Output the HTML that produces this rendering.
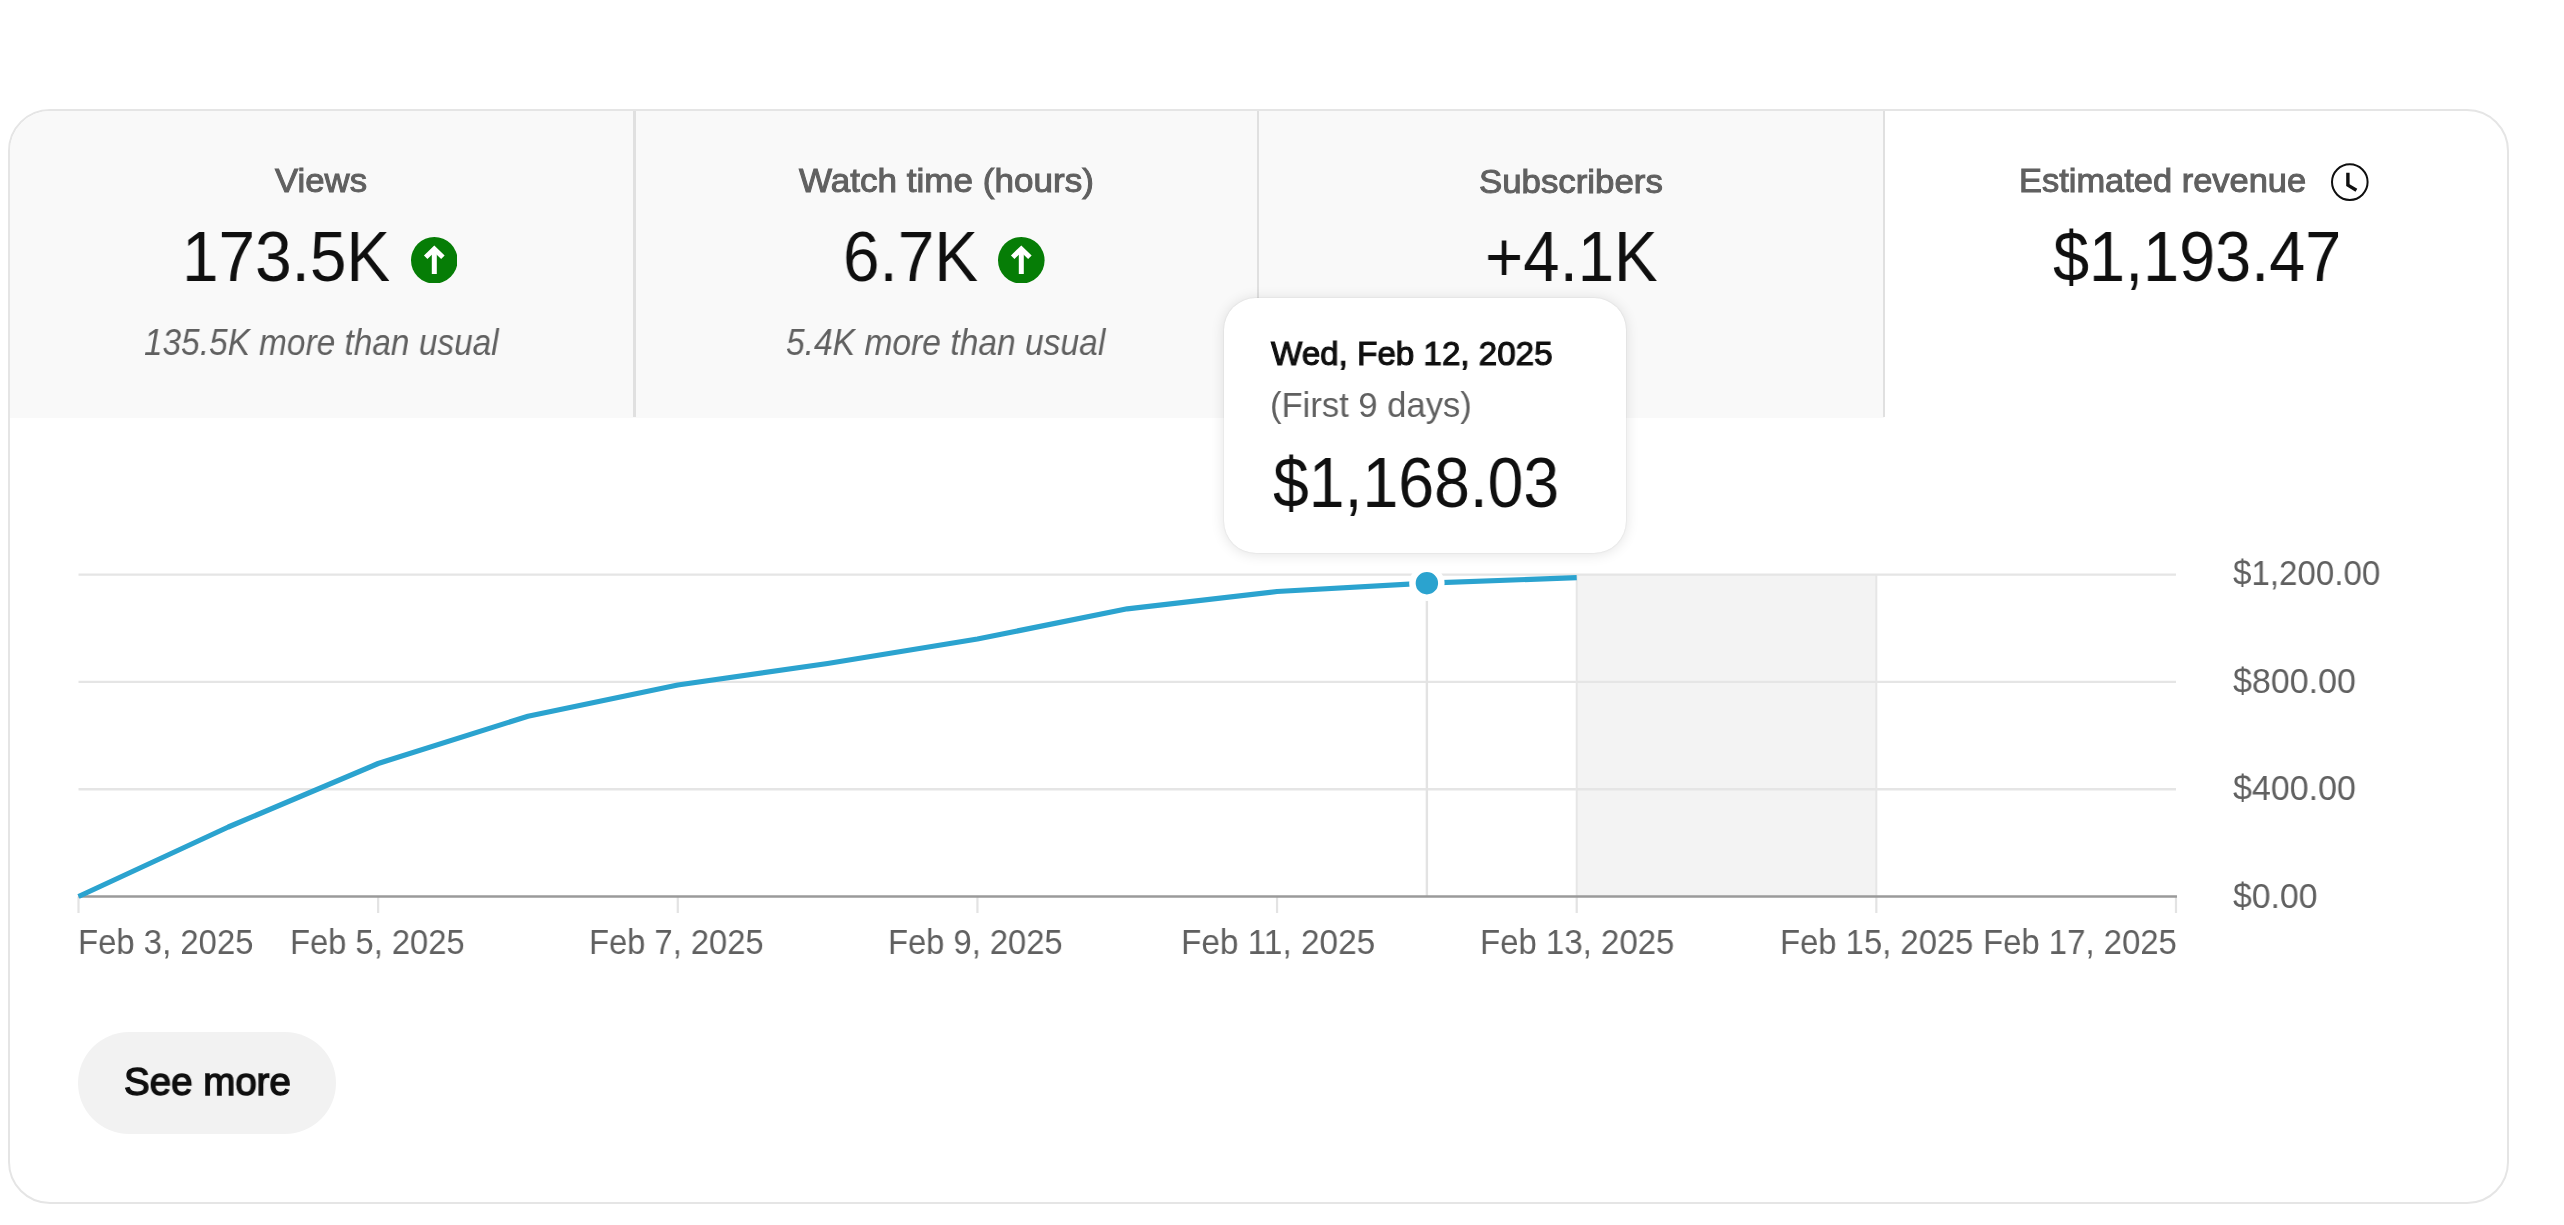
<!DOCTYPE html>
<html><head><meta charset="utf-8"><style>
html,body{margin:0;padding:0;background:#fff;}
body{width:2564px;height:1225px;overflow:hidden;position:relative;font-family:"Liberation Sans",sans-serif;}
.t{position:absolute;white-space:nowrap;line-height:1;font-weight:400;transform-origin:0 0;will-change:transform;}
.card{position:absolute;left:8px;top:109px;width:2501px;height:1095px;box-sizing:border-box;border:2.4px solid #e5e5e5;border-radius:42px;overflow:hidden;background:#fff;}
.gray{position:absolute;left:0;top:0;width:1874px;height:306.5px;background:#f9f9f9;}
.div{position:absolute;top:111px;height:305.5px;width:2.3px;background:#e0e0e0;}
.ab{position:absolute;}
.tip{position:absolute;left:1223.5px;top:297.6px;width:402.7px;height:255px;background:#fff;border-radius:32px;
 box-shadow:0 0 2px rgba(0,0,0,0.12), 0 1px 14px rgba(0,0,0,0.12);}
.btn{position:absolute;left:78.2px;top:1031.8px;width:258.3px;height:101.8px;border-radius:51px;background:#f2f2f2;}
svg.chart{position:absolute;left:0;top:0;}
</style></head><body>
<div class="card"><div class="gray"></div></div>
<div class="div" style="left:633.4px"></div>
<div class="div" style="left:1256.9px"></div>
<div class="div" style="left:1882.6px"></div>
<div class="t" style="left:275.10px;top:165.32px;font-size:32.754px;color:#606060;font-style:normal;transform:scaleX(1.0605);-webkit-text-stroke:1.0px #606060;">Views</div>
<div class="t" style="left:798.90px;top:165.42px;font-size:32.754px;color:#606060;font-style:normal;transform:scaleX(1.0708);-webkit-text-stroke:1.0px #606060;">Watch time (hours)</div>
<div class="t" style="left:1478.54px;top:165.52px;font-size:32.754px;color:#606060;font-style:normal;transform:scaleX(1.0632);-webkit-text-stroke:1.0px #606060;">Subscribers</div>
<div class="t" style="left:2019.00px;top:165.32px;font-size:32.754px;color:#606060;font-style:normal;transform:scaleX(1.0515);-webkit-text-stroke:1.0px #606060;">Estimated revenue</div>
<div class="t" style="left:181.76px;top:222.34px;font-size:70.725px;color:#0f0f0f;font-style:normal;transform:scaleX(0.9284);">173.5K</div>
<div class="t" style="left:842.79px;top:222.24px;font-size:70.725px;color:#0f0f0f;font-style:normal;transform:scaleX(0.9286);">6.7K</div>
<div class="t" style="left:1485.43px;top:222.24px;font-size:70.725px;color:#0f0f0f;font-style:normal;transform:scaleX(0.9247);">+4.1K</div>
<div class="t" style="left:2052.88px;top:222.24px;font-size:70.725px;color:#0f0f0f;font-style:normal;transform:scaleX(0.9161);">$1,193.47</div>
<div class="t" style="left:144.30px;top:324.67px;font-size:36.957px;color:#606060;font-style:italic;transform:scaleX(0.9041);">135.5K more than usual</div>
<div class="t" style="left:786.39px;top:324.67px;font-size:36.957px;color:#606060;font-style:italic;transform:scaleX(0.9094);">5.4K more than usual</div>
<svg class="ab" style="left:410.90px;top:236.50px" width="46.6" height="46.6" viewBox="-23.3 -23.3 46.6 46.6"><circle r="23.3" fill="#067d06"/><path d="M0 -10 V13.7" stroke="#fff" stroke-width="5" fill="none"/><path d="M-8.6 -3.0 L0 -11.4 L8.6 -3.0" stroke="#fff" stroke-width="5" fill="none" stroke-linejoin="miter" stroke-miterlimit="10"/></svg>
<svg class="ab" style="left:998.00px;top:236.70px" width="46.6" height="46.6" viewBox="-23.3 -23.3 46.6 46.6"><circle r="23.3" fill="#067d06"/><path d="M0 -10 V13.7" stroke="#fff" stroke-width="5" fill="none"/><path d="M-8.6 -3.0 L0 -11.4 L8.6 -3.0" stroke="#fff" stroke-width="5" fill="none" stroke-linejoin="miter" stroke-miterlimit="10"/></svg>
<svg class="chart" width="2564" height="1225" viewBox="0 0 2564 1225">
<rect x="1576.70" y="574.60" width="299.64" height="321.90" fill="#f3f3f3"/>
<line x1="78.5" y1="574.6" x2="2175.98" y2="574.6" stroke="#e5e5e5" stroke-width="2.4"/>
<line x1="78.5" y1="681.9" x2="2175.98" y2="681.9" stroke="#e5e5e5" stroke-width="2.4"/>
<line x1="78.5" y1="789.2" x2="2175.98" y2="789.2" stroke="#e5e5e5" stroke-width="2.4"/>
<line x1="1576.70" y1="574.6" x2="1576.70" y2="896.5" stroke="#e6e6e6" stroke-width="2"/>
<line x1="1876.34" y1="574.6" x2="1876.34" y2="896.5" stroke="#e6e6e6" stroke-width="2"/>
<line x1="1426.88" y1="574.6" x2="1426.88" y2="896.5" stroke="#e3e3e3" stroke-width="2.4"/>
<line x1="78.50" y1="896.5" x2="78.50" y2="913" stroke="#e3e3e3" stroke-width="2.2"/>
<line x1="378.14" y1="896.5" x2="378.14" y2="913" stroke="#e3e3e3" stroke-width="2.2"/>
<line x1="677.78" y1="896.5" x2="677.78" y2="913" stroke="#e3e3e3" stroke-width="2.2"/>
<line x1="977.42" y1="896.5" x2="977.42" y2="913" stroke="#e3e3e3" stroke-width="2.2"/>
<line x1="1277.06" y1="896.5" x2="1277.06" y2="913" stroke="#e3e3e3" stroke-width="2.2"/>
<line x1="1576.70" y1="896.5" x2="1576.70" y2="913" stroke="#e3e3e3" stroke-width="2.2"/>
<line x1="1876.34" y1="896.5" x2="1876.34" y2="913" stroke="#e3e3e3" stroke-width="2.2"/>
<line x1="2175.98" y1="896.5" x2="2175.98" y2="913" stroke="#e3e3e3" stroke-width="2.2"/>
<line x1="78.5" y1="896.5" x2="2176.98" y2="896.5" stroke="#9a9a9a" stroke-width="2.7"/>
<polyline points="78.50,896.50 228.32,827.00 378.14,763.50 527.96,716.20 677.78,685.00 827.60,663.50 977.42,639.00 1127.24,608.80 1277.06,591.50 1426.88,583.20 1576.70,577.60" fill="none" stroke="#2ba3cf" stroke-width="5.2" stroke-linejoin="round" stroke-linecap="butt"/>
<circle cx="1426.88" cy="583.2" r="14.45" fill="#2ba3cf" stroke="#fff" stroke-width="6.5"/>
<g transform="translate(2349.8 182.1)">
<circle r="17.8" fill="none" stroke="#0f0f0f" stroke-width="2.0"/>
<path d="M-1.9 -9.4 V3.0 L6.6 8.2" fill="none" stroke="#0f0f0f" stroke-width="3.4" stroke-linejoin="miter"/>
</g>
</svg>
<div class="t" style="left:77.56px;top:924.61px;font-size:34.783px;color:#606060;font-style:normal;transform:scaleX(0.9453);">Feb 3, 2025</div>
<div class="t" style="left:290.18px;top:924.61px;font-size:34.783px;color:#606060;font-style:normal;transform:scaleX(0.9409);">Feb 5, 2025</div>
<div class="t" style="left:589.38px;top:924.61px;font-size:34.783px;color:#606060;font-style:normal;transform:scaleX(0.9409);">Feb 7, 2025</div>
<div class="t" style="left:888.48px;top:924.61px;font-size:34.783px;color:#606060;font-style:normal;transform:scaleX(0.9409);">Feb 9, 2025</div>
<div class="t" style="left:1180.92px;top:924.61px;font-size:34.783px;color:#606060;font-style:normal;transform:scaleX(0.9596);">Feb 11, 2025</div>
<div class="t" style="left:1480.45px;top:924.61px;font-size:34.783px;color:#606060;font-style:normal;transform:scaleX(0.9485);">Feb 13, 2025</div>
<div class="t" style="left:1779.97px;top:924.61px;font-size:34.783px;color:#606060;font-style:normal;transform:scaleX(0.9435);">Feb 15, 2025</div>
<div class="t" style="left:1982.56px;top:924.61px;font-size:34.783px;color:#606060;font-style:normal;transform:scaleX(0.9460);">Feb 17, 2025</div>
<div class="t" style="left:2233.06px;top:555.46px;font-size:35.072px;color:#606060;font-style:normal;transform:scaleX(0.9442);">$1,200.00</div>
<div class="t" style="left:2233.03px;top:662.86px;font-size:35.072px;color:#606060;font-style:normal;transform:scaleX(0.9694);">$800.00</div>
<div class="t" style="left:2233.03px;top:770.26px;font-size:35.072px;color:#606060;font-style:normal;transform:scaleX(0.9694);">$400.00</div>
<div class="t" style="left:2233.04px;top:877.56px;font-size:35.072px;color:#606060;font-style:normal;transform:scaleX(0.9624);">$0.00</div>
<div class="tip"></div>
<div class="t" style="left:1271.40px;top:337.24px;font-size:33.913px;color:#0f0f0f;font-style:normal;transform:scaleX(0.9784);-webkit-text-stroke:1.15px #0f0f0f;">Wed, Feb 12, 2025</div>
<div class="t" style="left:1270.24px;top:387.42px;font-size:35.362px;color:#606060;font-style:normal;transform:scaleX(0.9782);">(First 9 days)</div>
<div class="t" style="left:1272.98px;top:449.14px;font-size:69.710px;color:#0f0f0f;font-style:normal;transform:scaleX(0.9229);">$1,168.03</div>
<div class="btn"></div>
<div class="t" style="left:124.11px;top:1062.16px;font-size:38.986px;color:#0f0f0f;font-style:normal;transform:scaleX(0.9874);-webkit-text-stroke:1.4px #0f0f0f;">See more</div>
</body></html>
